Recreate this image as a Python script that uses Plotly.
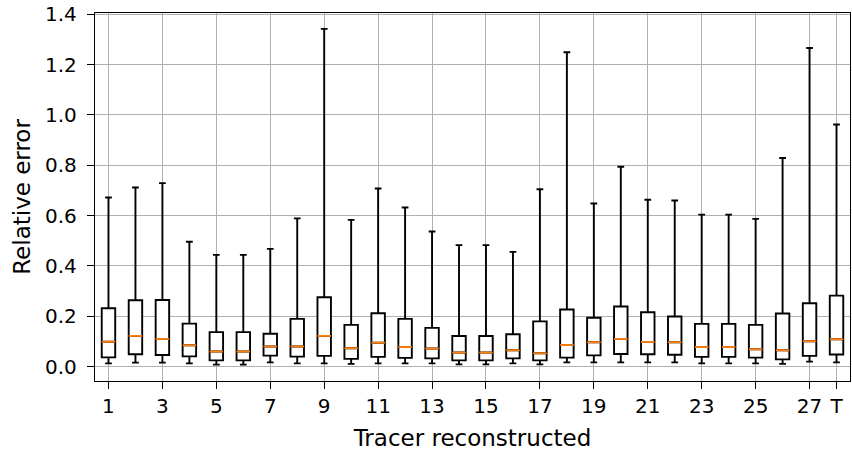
import plotly.graph_objects as go

labels = [str(i) for i in range(1, 28)] + ["T"]
positions = list(range(1, 29))
upper = [0.672, 0.712, 0.729, 0.496, 0.444, 0.444, 0.468, 0.589, 1.342,
         0.583, 0.708, 0.632, 0.537, 0.483, 0.483, 0.456, 0.705, 1.249,
         0.648, 0.794, 0.663, 0.660, 0.604, 0.604, 0.587, 0.829, 1.266, 0.962]
q3 = [0.232, 0.264, 0.265, 0.171, 0.137, 0.137, 0.131, 0.190, 0.276,
      0.166, 0.212, 0.190, 0.154, 0.122, 0.122, 0.129, 0.180, 0.227,
      0.194, 0.239, 0.216, 0.199, 0.170, 0.170, 0.166, 0.211, 0.252, 0.282]
median = [0.099, 0.122, 0.110, 0.085, 0.060, 0.060, 0.080, 0.080, 0.122,
          0.073, 0.095, 0.078, 0.072, 0.056, 0.056, 0.065, 0.053, 0.086,
          0.097, 0.110, 0.098, 0.097, 0.078, 0.078, 0.069, 0.065, 0.101, 0.109]
q1 = [0.037, 0.049, 0.046, 0.041, 0.025, 0.025, 0.044, 0.040, 0.043,
      0.031, 0.039, 0.035, 0.033, 0.025, 0.025, 0.033, 0.025, 0.036,
      0.045, 0.050, 0.049, 0.047, 0.039, 0.039, 0.036, 0.029, 0.043, 0.048]
lower = [0.013, 0.016, 0.016, 0.013, 0.008, 0.008, 0.017, 0.013, 0.013,
         0.011, 0.013, 0.013, 0.013, 0.009, 0.009, 0.013, 0.009, 0.017,
         0.017, 0.017, 0.017, 0.017, 0.013, 0.013, 0.013, 0.011, 0.020, 0.017]

BOX_W = 0.5
fig = go.Figure()
fig.add_trace(go.Box(
    x=positions, q1=q1, median=median, q3=q3,
    lowerfence=lower, upperfence=upper,
    width=BOX_W, whiskerwidth=0.5, boxpoints=False,
    fillcolor="white", line=dict(color="black", width=1.9),
    showlegend=False,
))
mx, my = [], []
for p, m in zip(positions, median):
    mx += [p - BOX_W / 2, p + BOX_W / 2, None]
    my += [m, m, None]
fig.add_trace(go.Scatter(x=mx, y=my, mode="lines",
                         line=dict(color="#ff7f0e", width=1.9),
                         showlegend=False, hoverinfo="skip"))

tickvals = [p for p in positions if p % 2 == 1] + [28]
ticktext = [labels[p - 1] for p in tickvals]

fig.update_layout(
    width=852, height=451,
    margin=dict(l=95, r=2, t=13, b=70),
    plot_bgcolor="white", paper_bgcolor="white",
    font=dict(family="DejaVu Sans", size=19, color="black"),
    xaxis=dict(range=[0.5, 28.5], tickvals=tickvals, ticktext=ticktext,
               tickfont=dict(size=20),
               showgrid=True, gridcolor="#b0b0b0", gridwidth=1,
               showline=True, linecolor="black", linewidth=1.3, mirror=True,
               ticks="outside", ticklen=7, tickcolor="black",
               title=dict(text="Tracer reconstructed", standoff=12),
               zeroline=False),
    yaxis=dict(range=[-0.057, 1.405], dtick=0.2, tick0=0, tickformat=".1f",
               tickfont=dict(size=20), ticklabelstandoff=6,
               showgrid=True, gridcolor="#b0b0b0", gridwidth=1,
               showline=True, linecolor="black", linewidth=1.3, mirror=True,
               ticks="outside", ticklen=7, tickcolor="black",
               title=dict(text="Relative error", standoff=7),
               zeroline=False),
)
fig.write_html("out.html")
